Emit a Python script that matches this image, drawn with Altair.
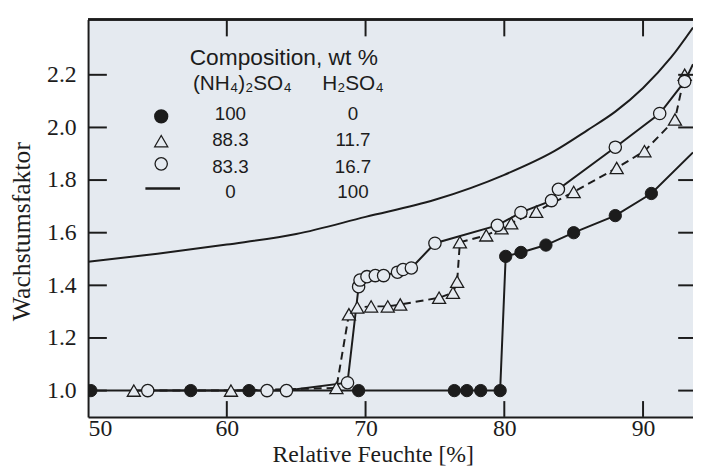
import altair as alt
import pandas as pd

# ---------------- data ----------------
# 100 % H2SO4 (solid curve, no markers)
acid_x = [50, 55, 60, 65, 70, 75, 80, 83.6, 86, 88, 90, 92, 93.6]
acid_y = [1.49, 1.52, 1.555, 1.595, 1.66, 1.725, 1.82, 1.91, 1.99, 2.06, 2.15, 2.265, 2.38]

# 100 % (NH4)2SO4 (filled circles, solid line)
as100_x = [50.2, 57.4, 61.6, 69.5, 76.4, 77.3, 78.3, 79.7, 80.1, 81.2, 83.0, 85.0, 88.0, 90.6]
as100_y = [1.0, 1.0, 1.0, 1.0, 1.0, 1.0, 1.0, 1.0, 1.51, 1.525, 1.553, 1.60, 1.665, 1.749]
as100_end_x = [93.6]
as100_end_y = [1.905]

# 88.3 / 11.7 (open triangles, dashed line)
as88_x = [53.3, 60.3, 67.9, 68.8, 69.4, 70.4, 71.6, 72.5, 75.3, 76.3, 76.6, 76.8,
          78.7, 79.8, 80.5, 82.3, 85.0, 88.1, 90.1, 92.3, 93.0]
as88_y = [1.0, 1.0, 1.01, 1.29, 1.316, 1.32, 1.32, 1.327, 1.353, 1.372, 1.414, 1.564,
          1.59, 1.617, 1.636, 1.68, 1.755, 1.846, 1.91, 2.03, 2.20]

# 83.3 / 16.7 (open circles, solid line)
as83_x = [54.3, 62.9, 64.3, 68.7, 69.5, 69.6, 70.1, 70.7, 71.3, 72.3, 72.7, 73.3,
          75.0, 79.5, 81.2, 83.4, 83.9, 88.0, 91.2, 93.0]
as83_y = [1.0, 1.0, 1.0, 1.03, 1.395, 1.42, 1.433, 1.437, 1.437, 1.45, 1.46, 1.466,
          1.56, 1.628, 1.677, 1.722, 1.765, 1.925, 2.053, 2.175]
as83_end_x = [93.6]
as83_end_y = [2.24]

# axis ticks
x_tick_values = [50, 60, 70, 80, 90]
x_inner_ticks = [60, 70, 80, 90]
y_tick_values = [1.0, 1.2, 1.4, 1.6, 1.8, 2.0, 2.2]

# legend table
legend_header = "Composition, wt %"
legend_col1 = "(NH₄)₂SO₄"
legend_col2 = "H₂SO₄"
legend_as = ["100", "88.3", "83.3", "0"]
legend_acid = ["0", "11.7", "16.7", "100"]

# ---------------- styling ----------------
W, H = 612, 402
INK = "#1c1c1c"
BG = "#e5eaf0"
SERIF = "Liberation Serif"
SANS = "Liberation Sans"

xs = alt.Scale(domain=[50, 93.6], nice=False, zero=False)
ys = alt.Scale(domain=[0.9, 2.41], nice=False, zero=False)

x_axis = alt.Axis(values=x_tick_values, format=".0f", ticks=False, tickSize=0, grid=False,
                  domain=True, domainColor=INK, domainWidth=2,
                  labelFont=SERIF, labelFontSize=24, labelColor=INK, labelPadding=0,
                  title="Relative Feuchte [%]", titleFont=SERIF, titleFontSize=24,
                  titleFontWeight="normal", titleColor=INK,
                  titleX=288, titleY=45, titleAlign="center", titleBaseline="alphabetic")
y_axis = alt.Axis(values=y_tick_values, format=".1f", ticks=False, tickSize=0, grid=False,
                  domain=True, domainColor=INK, domainWidth=2,
                  labelFont=SERIF, labelFontSize=24, labelColor=INK, labelPadding=12,
                  title="Wachstumsfaktor", titleFont=SERIF, titleFontSize=26,
                  titleFontWeight="normal", titleColor=INK,
                  titleX=-67, titleY=214, titleAngle=270, titleAlign="center",
                  titleBaseline="middle")

X = alt.X("x:Q", scale=xs, axis=x_axis)
Y = alt.Y("y:Q", scale=ys, axis=y_axis)


def df(xv, yv):
    return pd.DataFrame({"x": xv, "y": yv})


acid_line = alt.Chart(df(acid_x, acid_y)).mark_line(
    color=INK, strokeWidth=2, interpolate="monotone", clip=True).encode(x=X, y=Y)

as100_line = alt.Chart(df(as100_x + as100_end_x, as100_y + as100_end_y)).mark_line(
    color=INK, strokeWidth=2, clip=True).encode(x=X, y=Y, order="x:Q")
as88_line = alt.Chart(df(as88_x, as88_y)).mark_line(
    color=INK, strokeWidth=2, strokeDash=[8, 5], clip=True).encode(x=X, y=Y, order="x:Q")
as83_line = alt.Chart(df(as83_x + as83_end_x, as83_y + as83_end_y)).mark_line(
    color=INK, strokeWidth=2, clip=True).encode(x=X, y=Y, order="x:Q")

as100_pts = alt.Chart(df(as100_x, as100_y)).mark_point(
    shape="circle", size=155, filled=True, fill=INK, stroke=INK, strokeWidth=1,
    opacity=1, clip=True).encode(x=X, y=Y)
as88_pts = alt.Chart(df(as88_x, as88_y)).mark_point(
    shape="triangle-up", size=175, filled=True, fill=BG, stroke=INK, strokeWidth=1.3,
    opacity=1, clip=True).encode(x=X, y=Y)
as83_pts = alt.Chart(df(as83_x, as83_y)).mark_point(
    shape="circle", size=155, filled=True, fill=BG, stroke=INK, strokeWidth=1.3,
    opacity=1, clip=True).encode(x=X, y=Y)

# inward tick marks on all four sides
tx = pd.DataFrame({"x": x_inner_ticks})
ty = pd.DataFrame({"y": y_tick_values})
tick_bottom = alt.Chart(tx).mark_rule(color=INK, strokeWidth=2).encode(
    x=X, y=alt.value(H), y2=alt.value(H - 16))
tick_top = alt.Chart(tx).mark_rule(color=INK, strokeWidth=2).encode(
    x=X, y=alt.value(0), y2=alt.value(17))
tick_left = alt.Chart(ty).mark_rule(color=INK, strokeWidth=2).encode(
    y=Y, x=alt.value(0), x2=alt.value(19))
tick_right = alt.Chart(ty).mark_rule(color=INK, strokeWidth=2).encode(
    y=Y, x=alt.value(W), x2=alt.value(W - 15))
top_border = alt.Chart(tx).mark_rule(color=INK, strokeWidth=2).encode(
    x=alt.value(0), x2=alt.value(W), y=alt.value(0))

# legend (drawn inside the plot)
one = pd.DataFrame({"k": [0]})


def txt(s, px, py, size):
    return alt.Chart(one).mark_text(text=s, font=SANS, fontSize=size, color=INK,
                                    align="center", baseline="alphabetic").encode(
        x=alt.value(px), y=alt.value(py))


legend = [txt(legend_header, 198, 46, 23), txt(legend_col1, 156, 71, 21),
          txt(legend_col2, 268, 71, 21)]
row_y = [102, 128, 155, 181]
for a, b, ry in zip(legend_as, legend_acid, row_y):
    legend.append(txt(a, 144, ry, 19))
    legend.append(txt(b, 268, ry, 19))

leg_filled = alt.Chart(one).mark_point(shape="circle", size=155, filled=True, fill=INK,
                                       stroke=INK, opacity=1).encode(
    x=alt.value(74), y=alt.value(98))
leg_tri = alt.Chart(one).mark_point(shape="triangle-up", size=175, filled=True, fill=BG,
                                    stroke=INK, strokeWidth=1.3, opacity=1).encode(
    x=alt.value(74), y=alt.value(123))
leg_open = alt.Chart(one).mark_point(shape="circle", size=155, filled=True, fill=BG,
                                     stroke=INK, strokeWidth=1.3, opacity=1).encode(
    x=alt.value(74), y=alt.value(146))
leg_line = alt.Chart(one).mark_rule(color=INK, strokeWidth=2.5).encode(
    x=alt.value(58), x2=alt.value(93), y=alt.value(171))

chart = alt.layer(
    acid_line, as100_line, as88_line, as83_line,
    as100_pts, as88_pts, as83_pts,
    tick_bottom, tick_top, tick_left, tick_right, top_border,
    *legend, leg_filled, leg_tri, leg_open, leg_line,
).properties(
    width=W, height=H,
    autosize=alt.AutoSizeParams(type="none"),
    padding={"left": 81, "top": 9, "right": 0, "bottom": 49},
    background="white",
).configure_view(stroke=None, fill=BG)

chart.save("out.html", embed_options={"renderer": "svg", "actions": False})
